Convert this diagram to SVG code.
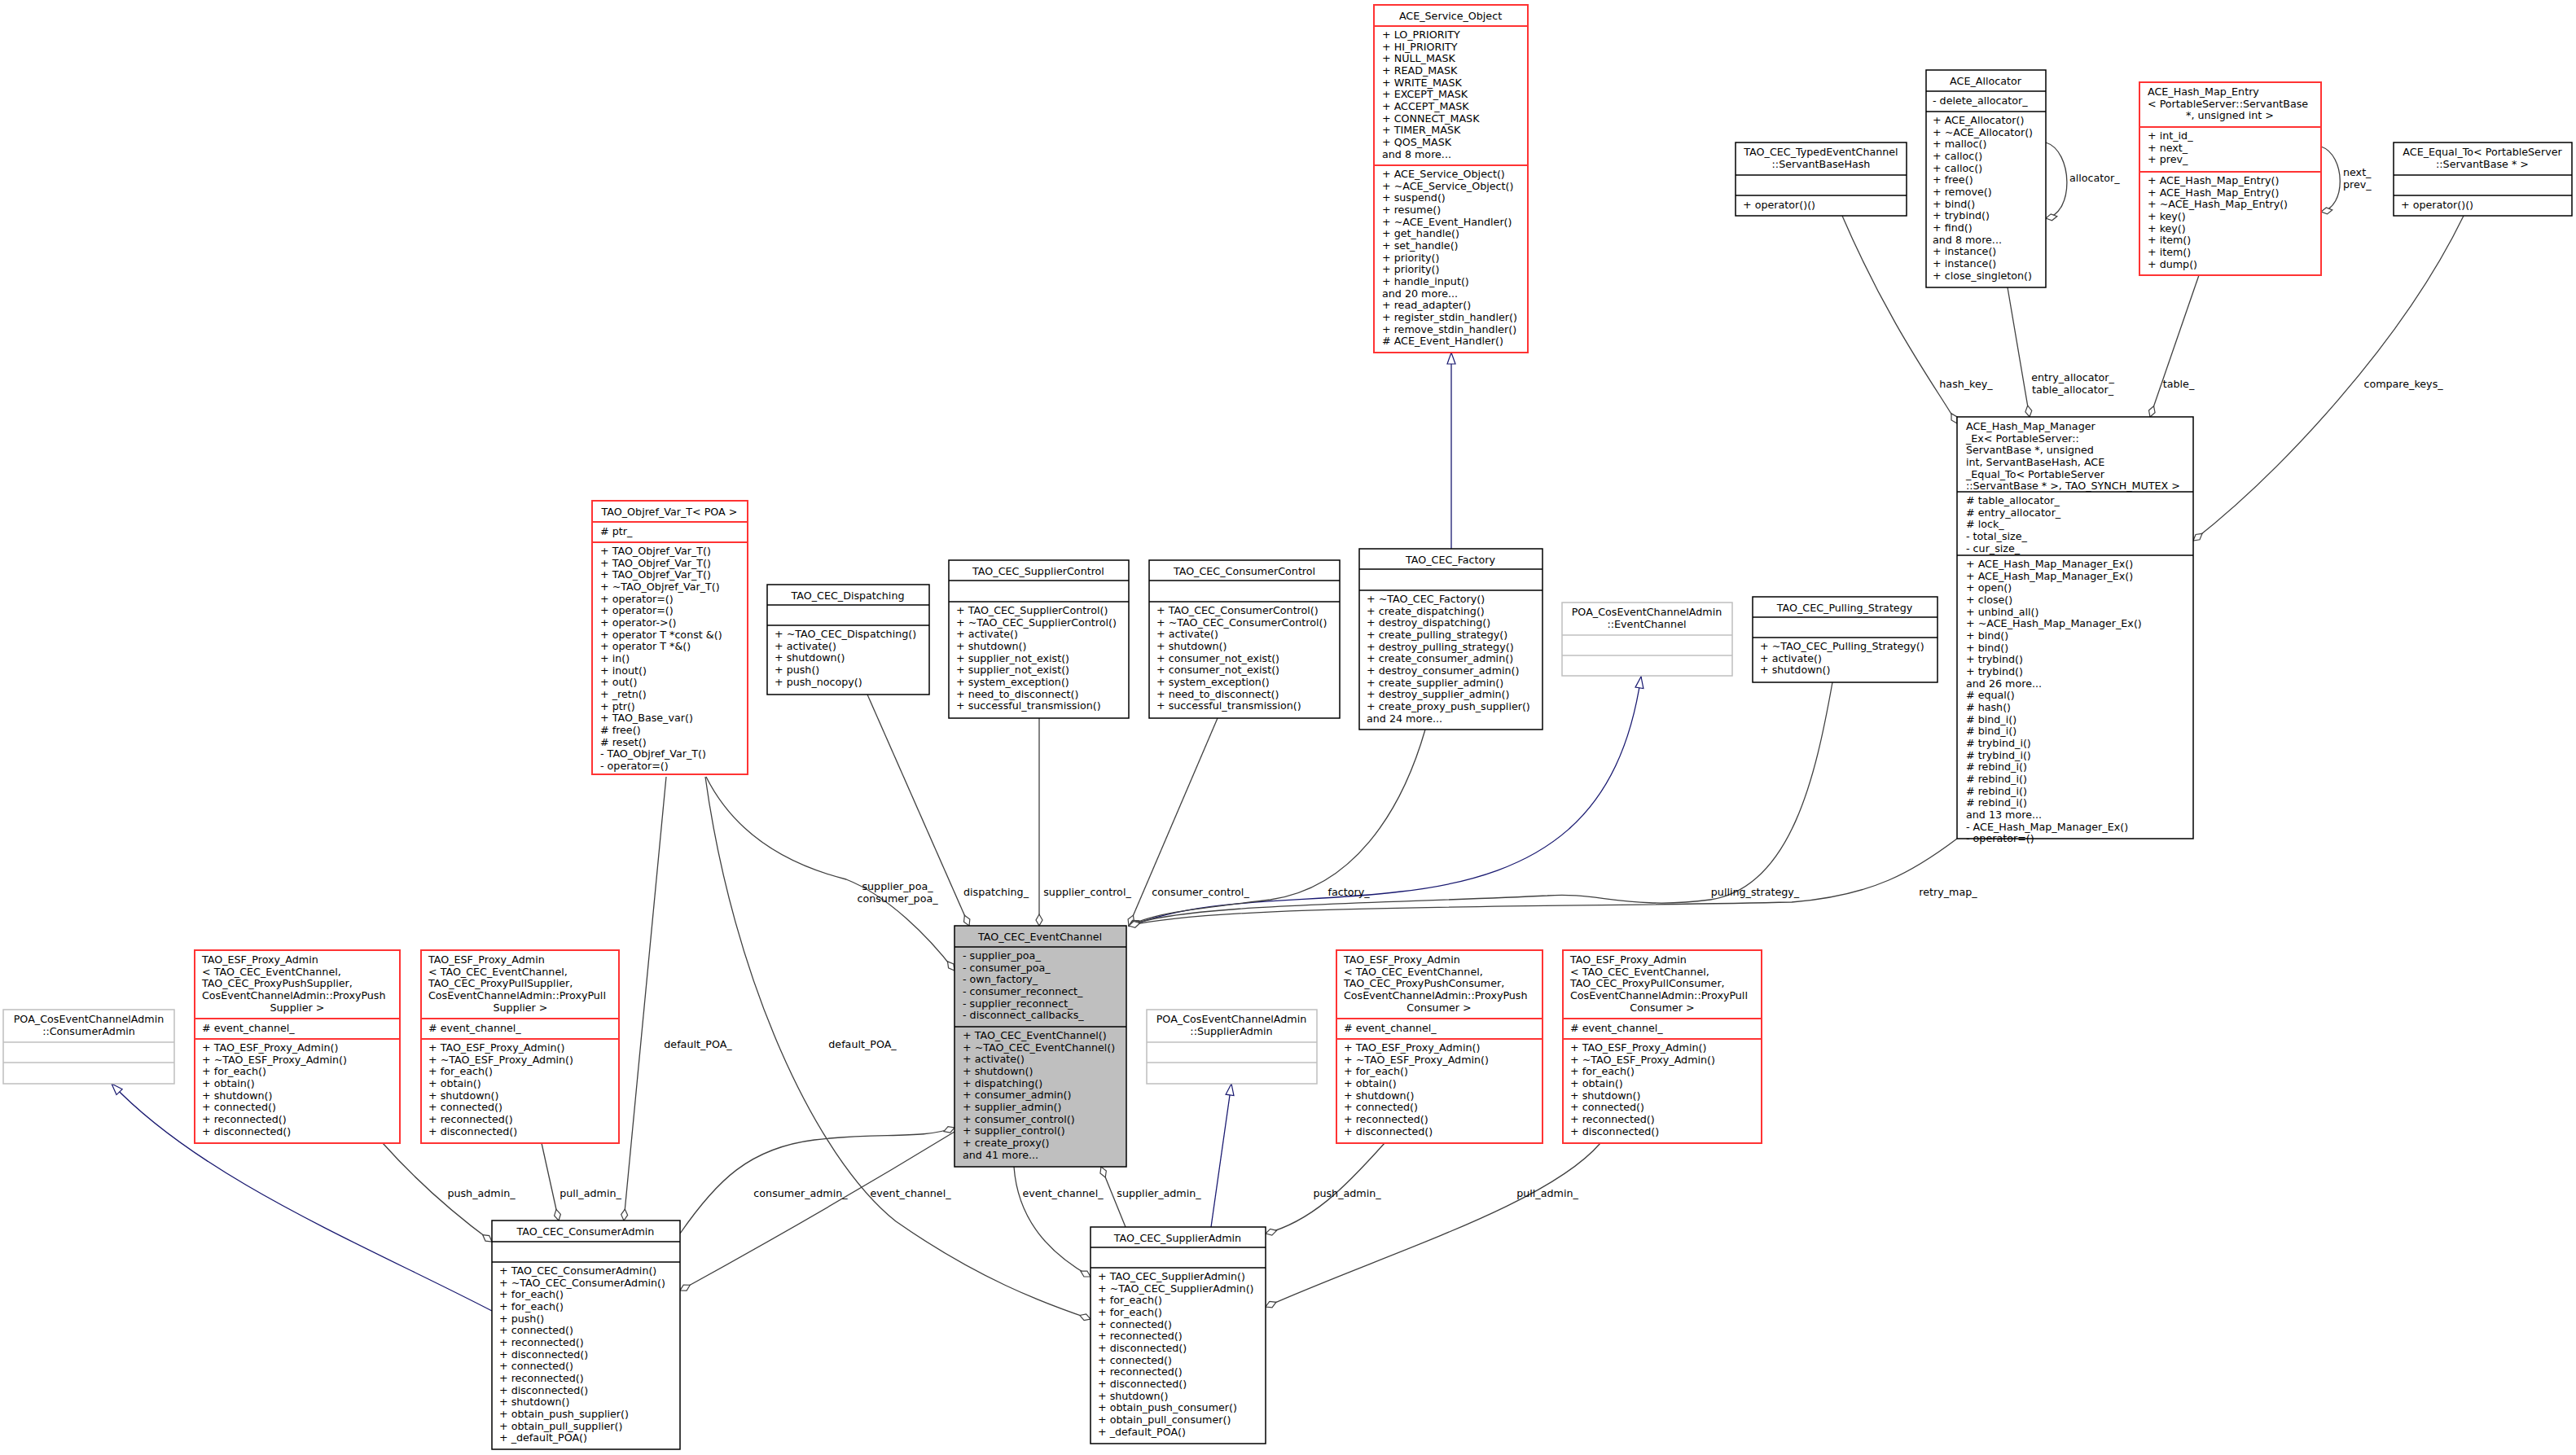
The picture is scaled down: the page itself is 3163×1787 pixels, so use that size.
<svg xmlns="http://www.w3.org/2000/svg" width="3163" height="1787" viewBox="0 0 3163 1787">
<style>
text{font-family:"DejaVu Sans","Liberation Sans",sans-serif;font-size:12.7px;fill:#000}
.c{text-anchor:middle}
.b{fill:#fff;stroke:#000;stroke-width:1.5}
.r{fill:#fff;stroke:#ff3333;stroke-width:2}
.g{fill:#fff;stroke:#bfbfbf;stroke-width:1.5}
.gf{fill:#bfbfbf;stroke:#000;stroke-width:1.5}
.l{stroke:#000;stroke-width:1.5}
.lr{stroke:#ff3333;stroke-width:2}
.lg{stroke:#bfbfbf;stroke-width:1.5}
.e{fill:none;stroke:#404040;stroke-width:1.3;marker-end:url(#dia)}
.i{fill:none;stroke:#191970;stroke-width:1.3;marker-end:url(#tri)}
</style>
<defs>
<marker id="dia" markerUnits="userSpaceOnUse" markerWidth="16" markerHeight="10" viewBox="0 0 16 10" refX="15" refY="5" orient="auto"><path d="M1,5 L8,1 L15,5 L8,9 Z" fill="#fff" stroke="#404040" stroke-width="1.2"/></marker>
<marker id="tri" markerUnits="userSpaceOnUse" markerWidth="16" markerHeight="12" viewBox="0 0 16 12" refX="15" refY="6" orient="auto"><path d="M1,1 L15,6 L1,11 Z" fill="#fff" stroke="#191970" stroke-width="1.2"/></marker>
</defs>
<rect width="3163" height="1787" fill="#fff"/>
<g id="connectors">
<path class="i" d="M1782,674 L1782,433"/>
<path class="i" d="M1386,1138 C1480,1100 1600,1110 1720,1095 C1900,1075 1990,1000 2015,831"/>
<path class="i" d="M604,1610 C450,1530 250,1450 137,1331"/>
<path class="i" d="M1487,1507 L1512,1331"/>
<path class="e" d="M867,954 C900,1020 960,1060 1039,1080 C1090,1100 1140,1150 1172,1192"/>
<path class="e" d="M1065,853 L1190,1137"/>
<path class="e" d="M1276,882 L1276,1137"/>
<path class="e" d="M1495,882 L1386,1137"/>
<path class="e" d="M1750,896 C1720,1000 1660,1090 1560,1105 C1480,1115 1420,1120 1386,1137"/>
<path class="e" d="M2250,838 C2230,950 2200,1090 2100,1105 C2000,1118 1960,1095 1900,1100 C1700,1110 1450,1110 1386,1137"/>
<path class="e" d="M2403,1030 C2350,1070 2300,1100 2200,1108 C1900,1115 1500,1110 1386,1137"/>
<path class="e" d="M818,954 L766,1499"/>
<path class="e" d="M866,954 C900,1200 1000,1420 1100,1500 C1200,1570 1280,1600 1339,1620"/>
<path class="e" d="M470,1404 C520,1460 570,1500 604,1525"/>
<path class="e" d="M665,1404 L686,1499"/>
<path class="e" d="M835,1515 C880,1450 920,1410 1000,1400 C1080,1390 1130,1400 1172,1385"/>
<path class="e" d="M1172,1390 C1090,1440 990,1500 835,1585"/>
<path class="e" d="M1245,1433 C1250,1500 1290,1540 1339,1568"/>
<path class="e" d="M1382,1507 L1352,1433"/>
<path class="e" d="M1700,1404 C1650,1460 1610,1500 1554,1515"/>
<path class="e" d="M1965,1404 C1900,1480 1700,1540 1554,1605"/>
<path class="e" d="M2262,265 C2320,400 2380,480 2403,520"/>
<path class="e" d="M2465,353 L2492,512"/>
<path class="e" d="M2700,338 L2640,512"/>
<path class="e" d="M3025,265 C2950,420 2800,580 2693,664"/>
<path class="e" d="M2512,175 C2545,185 2548,262 2512,268"/>
<path class="e" d="M2850,180 C2880,190 2882,255 2850,260"/>
<g class="c">
<text x="1102" y="1093">supplier_poa_</text><text x="1102" y="1108">consumer_poa_</text>
<text x="1223" y="1100">dispatching_</text>
<text x="1335" y="1100">supplier_control_</text>
<text x="1474" y="1100">consumer_control_</text>
<text x="1656" y="1100">factory_</text>
<text x="2155" y="1100">pulling_strategy_</text>
<text x="2392" y="1100">retry_map_</text>
<text x="2414" y="476">hash_key_</text>
<text x="2545" y="468">entry_allocator_</text><text x="2545" y="483">table_allocator_</text>
<text x="2675" y="476">table_</text>
<text x="2951" y="476">compare_keys_</text>
<text x="857" y="1287">default_POA_</text>
<text x="1059" y="1287">default_POA_</text>
<text x="591" y="1470">push_admin_</text>
<text x="725" y="1470">pull_admin_</text>
<text x="983" y="1470">consumer_admin_</text>
<text x="1118" y="1470">event_channel_</text>
<text x="1305" y="1470">event_channel_</text>
<text x="1423" y="1470">supplier_admin_</text>
<text x="1654" y="1470">push_admin_</text>
<text x="1900" y="1470">pull_admin_</text>
</g>
<text x="2541" y="223">allocator_</text>
<text x="2877" y="216">next_</text><text x="2877" y="231">prev_</text>
</g>

<g id="ACE_Service_Object">
<rect class="r" x="1687" y="6" width="189" height="427"/>
<line class="lr" x1="1687" y1="32" x2="1876" y2="32"/><line class="lr" x1="1687" y1="203" x2="1876" y2="203"/>
<text class="c" x="1781" y="24">ACE_Service_Object</text>
<text x="1697" y="47">+ LO_PRIORITY</text><text x="1697" y="62">+ HI_PRIORITY</text><text x="1697" y="76">+ NULL_MASK</text><text x="1697" y="91">+ READ_MASK</text><text x="1697" y="106">+ WRITE_MASK</text><text x="1697" y="120">+ EXCEPT_MASK</text><text x="1697" y="135">+ ACCEPT_MASK</text><text x="1697" y="150">+ CONNECT_MASK</text><text x="1697" y="164">+ TIMER_MASK</text><text x="1697" y="179">+ QOS_MASK</text><text x="1697" y="194">and 8 more...</text>
<text x="1697" y="218">+ ACE_Service_Object()</text><text x="1697" y="233">+ ~ACE_Service_Object()</text><text x="1697" y="247">+ suspend()</text><text x="1697" y="262">+ resume()</text><text x="1697" y="277">+ ~ACE_Event_Handler()</text><text x="1697" y="291">+ get_handle()</text><text x="1697" y="306">+ set_handle()</text><text x="1697" y="321">+ priority()</text><text x="1697" y="335">+ priority()</text><text x="1697" y="350">+ handle_input()</text><text x="1697" y="365">and 20 more...</text><text x="1697" y="379">+ read_adapter()</text><text x="1697" y="394">+ register_stdin_handler()</text><text x="1697" y="409">+ remove_stdin_handler()</text><text x="1697" y="423"># ACE_Event_Handler()</text>
</g>

<g id="ServantBaseHash">
<rect class="b" x="2131" y="175" width="210" height="90"/>
<line class="l" x1="2131" y1="215" x2="2341" y2="215"/><line class="l" x1="2131" y1="240" x2="2341" y2="240"/>
<text class="c" x="2236" y="191">TAO_CEC_TypedEventChannel</text><text class="c" x="2236" y="206">::ServantBaseHash</text>
<text x="2140" y="256">+ operator()()</text>
</g>

<g id="ACE_Allocator">
<rect class="b" x="2365" y="86" width="147" height="267"/>
<line class="l" x1="2365" y1="112" x2="2512" y2="112"/><line class="l" x1="2365" y1="137" x2="2512" y2="137"/>
<text class="c" x="2438" y="104">ACE_Allocator</text>
<text x="2373" y="128">- delete_allocator_</text>
<text x="2373" y="152">+ ACE_Allocator()</text><text x="2373" y="167">+ ~ACE_Allocator()</text><text x="2373" y="181">+ malloc()</text><text x="2373" y="196">+ calloc()</text><text x="2373" y="211">+ calloc()</text><text x="2373" y="225">+ free()</text><text x="2373" y="240">+ remove()</text><text x="2373" y="255">+ bind()</text><text x="2373" y="269">+ trybind()</text><text x="2373" y="284">+ find()</text><text x="2373" y="299">and 8 more...</text><text x="2373" y="313">+ instance()</text><text x="2373" y="328">+ instance()</text><text x="2373" y="343">+ close_singleton()</text>
</g>

<g id="ACE_Hash_Map_Entry">
<rect class="r" x="2627" y="101" width="223" height="237"/>
<line class="lr" x1="2627" y1="156" x2="2850" y2="156"/><line class="lr" x1="2627" y1="211" x2="2850" y2="211"/>
<text x="2637" y="117">ACE_Hash_Map_Entry</text><text x="2637" y="132">&lt; PortableServer::ServantBase</text><text class="c" x="2738" y="146">*, unsigned int &gt;</text>
<text x="2637" y="171">+ int_id_</text><text x="2637" y="186">+ next_</text><text x="2637" y="200">+ prev_</text>
<text x="2637" y="226">+ ACE_Hash_Map_Entry()</text><text x="2637" y="241">+ ACE_Hash_Map_Entry()</text><text x="2637" y="255">+ ~ACE_Hash_Map_Entry()</text><text x="2637" y="270">+ key()</text><text x="2637" y="285">+ key()</text><text x="2637" y="299">+ item()</text><text x="2637" y="314">+ item()</text><text x="2637" y="329">+ dump()</text>
</g>

<g id="ACE_Equal_To">
<rect class="b" x="2939" y="175" width="219" height="90"/>
<line class="l" x1="2939" y1="215" x2="3158" y2="215"/><line class="l" x1="2939" y1="240" x2="3158" y2="240"/>
<text class="c" x="3048" y="191">ACE_Equal_To&lt; PortableServer</text><text class="c" x="3048" y="206">::ServantBase * &gt;</text>
<text x="2948" y="256">+ operator()()</text>
</g>

<g id="ACE_Hash_Map_Manager_Ex">
<rect class="b" x="2403" y="512" width="290" height="518"/>
<line class="l" x1="2403" y1="604" x2="2693" y2="604"/><line class="l" x1="2403" y1="682" x2="2693" y2="682"/>
<text x="2414" y="528">ACE_Hash_Map_Manager</text><text x="2414" y="543">_Ex&lt; PortableServer::</text><text x="2414" y="557">ServantBase *, unsigned</text><text x="2414" y="572"> int, ServantBaseHash, ACE</text><text x="2414" y="587">_Equal_To&lt; PortableServer</text><text x="2414" y="601">::ServantBase * &gt;, TAO_SYNCH_MUTEX &gt;</text>
<text x="2414" y="619"># table_allocator_</text><text x="2414" y="634"># entry_allocator_</text><text x="2414" y="648"># lock_</text><text x="2414" y="663">- total_size_</text><text x="2414" y="678">- cur_size_</text>
<text x="2414" y="697">+ ACE_Hash_Map_Manager_Ex()</text><text x="2414" y="712">+ ACE_Hash_Map_Manager_Ex()</text><text x="2414" y="726">+ open()</text><text x="2414" y="741">+ close()</text><text x="2414" y="756">+ unbind_all()</text><text x="2414" y="770">+ ~ACE_Hash_Map_Manager_Ex()</text><text x="2414" y="785">+ bind()</text><text x="2414" y="800">+ bind()</text><text x="2414" y="814">+ trybind()</text><text x="2414" y="829">+ trybind()</text><text x="2414" y="844">and 26 more...</text><text x="2414" y="858"># equal()</text><text x="2414" y="873"># hash()</text><text x="2414" y="888"># bind_i()</text><text x="2414" y="902"># bind_i()</text><text x="2414" y="917"># trybind_i()</text><text x="2414" y="932"># trybind_i()</text><text x="2414" y="946"># rebind_i()</text><text x="2414" y="961"># rebind_i()</text><text x="2414" y="976"># rebind_i()</text><text x="2414" y="990"># rebind_i()</text><text x="2414" y="1005">and 13 more...</text><text x="2414" y="1020">- ACE_Hash_Map_Manager_Ex()</text><text x="2414" y="1034">- operator=()</text>
</g>

<g id="TAO_Objref_Var_T">
<rect class="r" x="727" y="615" width="191" height="336"/>
<line class="lr" x1="727" y1="641" x2="918" y2="641"/><line class="lr" x1="727" y1="666" x2="918" y2="666"/>
<text class="c" x="822" y="633">TAO_Objref_Var_T&lt; POA &gt;</text>
<text x="737" y="657"># ptr_</text>
<text x="737" y="681">+ TAO_Objref_Var_T()</text><text x="737" y="696">+ TAO_Objref_Var_T()</text><text x="737" y="710">+ TAO_Objref_Var_T()</text><text x="737" y="725">+ ~TAO_Objref_Var_T()</text><text x="737" y="740">+ operator=()</text><text x="737" y="754">+ operator=()</text><text x="737" y="769">+ operator-&gt;()</text><text x="737" y="784">+ operator T *const &amp;()</text><text x="737" y="798">+ operator T *&amp;()</text><text x="737" y="813">+ in()</text><text x="737" y="828">+ inout()</text><text x="737" y="842">+ out()</text><text x="737" y="857">+ _retn()</text><text x="737" y="872">+ ptr()</text><text x="737" y="886">+ TAO_Base_var()</text><text x="737" y="901"># free()</text><text x="737" y="916"># reset()</text><text x="737" y="930">- TAO_Objref_Var_T()</text><text x="737" y="945">- operator=()</text>
</g>

<g id="TAO_CEC_Dispatching">
<rect class="b" x="942" y="718" width="199" height="135"/>
<line class="l" x1="942" y1="743" x2="1141" y2="743"/><line class="l" x1="942" y1="768" x2="1141" y2="768"/>
<text class="c" x="1041" y="736">TAO_CEC_Dispatching</text>
<text x="951" y="783">+ ~TAO_CEC_Dispatching()</text><text x="951" y="798">+ activate()</text><text x="951" y="812">+ shutdown()</text><text x="951" y="827">+ push()</text><text x="951" y="842">+ push_nocopy()</text>
</g>

<g id="TAO_CEC_SupplierControl">
<rect class="b" x="1165" y="688" width="221" height="194"/>
<line class="l" x1="1165" y1="713" x2="1386" y2="713"/><line class="l" x1="1165" y1="739" x2="1386" y2="739"/>
<text class="c" x="1275" y="706">TAO_CEC_SupplierControl</text>
<text x="1174" y="754">+ TAO_CEC_SupplierControl()</text><text x="1174" y="769">+ ~TAO_CEC_SupplierControl()</text><text x="1174" y="783">+ activate()</text><text x="1174" y="798">+ shutdown()</text><text x="1174" y="813">+ supplier_not_exist()</text><text x="1174" y="827">+ supplier_not_exist()</text><text x="1174" y="842">+ system_exception()</text><text x="1174" y="857">+ need_to_disconnect()</text><text x="1174" y="871">+ successful_transmission()</text>
</g>

<g id="TAO_CEC_ConsumerControl">
<rect class="b" x="1411" y="688" width="234" height="194"/>
<line class="l" x1="1411" y1="713" x2="1645" y2="713"/><line class="l" x1="1411" y1="739" x2="1645" y2="739"/>
<text class="c" x="1528" y="706">TAO_CEC_ConsumerControl</text>
<text x="1420" y="754">+ TAO_CEC_ConsumerControl()</text><text x="1420" y="769">+ ~TAO_CEC_ConsumerControl()</text><text x="1420" y="783">+ activate()</text><text x="1420" y="798">+ shutdown()</text><text x="1420" y="813">+ consumer_not_exist()</text><text x="1420" y="827">+ consumer_not_exist()</text><text x="1420" y="842">+ system_exception()</text><text x="1420" y="857">+ need_to_disconnect()</text><text x="1420" y="871">+ successful_transmission()</text>
</g>

<g id="TAO_CEC_Factory">
<rect class="b" x="1669" y="674" width="225" height="222"/>
<line class="l" x1="1669" y1="699" x2="1894" y2="699"/><line class="l" x1="1669" y1="725" x2="1894" y2="725"/>
<text class="c" x="1781" y="692">TAO_CEC_Factory</text>
<text x="1678" y="740">+ ~TAO_CEC_Factory()</text><text x="1678" y="755">+ create_dispatching()</text><text x="1678" y="769">+ destroy_dispatching()</text><text x="1678" y="784">+ create_pulling_strategy()</text><text x="1678" y="799">+ destroy_pulling_strategy()</text><text x="1678" y="813">+ create_consumer_admin()</text><text x="1678" y="828">+ destroy_consumer_admin()</text><text x="1678" y="843">+ create_supplier_admin()</text><text x="1678" y="857">+ destroy_supplier_admin()</text><text x="1678" y="872">+ create_proxy_push_supplier()</text><text x="1678" y="887">and 24 more...</text>
</g>

<g id="POA_EventChannel">
<rect class="g" x="1918" y="740" width="209" height="90"/>
<line class="lg" x1="1918" y1="780" x2="2127" y2="780"/><line class="lg" x1="1918" y1="805" x2="2127" y2="805"/>
<text class="c" x="2022" y="756">POA_CosEventChannelAdmin</text><text class="c" x="2022" y="771">::EventChannel</text>
</g>

<g id="TAO_CEC_Pulling_Strategy">
<rect class="b" x="2152" y="733" width="227" height="105"/>
<line class="l" x1="2152" y1="758" x2="2379" y2="758"/><line class="l" x1="2152" y1="783" x2="2379" y2="783"/>
<text class="c" x="2265" y="751">TAO_CEC_Pulling_Strategy</text>
<text x="2161" y="798">+ ~TAO_CEC_Pulling_Strategy()</text><text x="2161" y="813">+ activate()</text><text x="2161" y="827">+ shutdown()</text>
</g>

<g id="TAO_CEC_EventChannel">
<rect class="gf" x="1172" y="1137" width="211" height="296"/>
<line class="l" x1="1172" y1="1163" x2="1383" y2="1163"/><line class="l" x1="1172" y1="1261" x2="1383" y2="1261"/>
<text class="c" x="1277" y="1155">TAO_CEC_EventChannel</text>
<text x="1182" y="1178">- supplier_poa_</text><text x="1182" y="1193">- consumer_poa_</text><text x="1182" y="1207">- own_factory_</text><text x="1182" y="1222">- consumer_reconnect_</text><text x="1182" y="1237">- supplier_reconnect_</text><text x="1182" y="1251">- disconnect_callbacks_</text>
<text x="1182" y="1276">+ TAO_CEC_EventChannel()</text><text x="1182" y="1291">+ ~TAO_CEC_EventChannel()</text><text x="1182" y="1305">+ activate()</text><text x="1182" y="1320">+ shutdown()</text><text x="1182" y="1335">+ dispatching()</text><text x="1182" y="1349">+ consumer_admin()</text><text x="1182" y="1364">+ supplier_admin()</text><text x="1182" y="1379">+ consumer_control()</text><text x="1182" y="1393">+ supplier_control()</text><text x="1182" y="1408">+ create_proxy()</text><text x="1182" y="1423">and 41 more...</text>
</g>

<g id="POA_ConsumerAdmin">
<rect class="g" x="4" y="1240" width="210" height="91"/>
<line class="lg" x1="4" y1="1280" x2="214" y2="1280"/><line class="lg" x1="4" y1="1305" x2="214" y2="1305"/>
<text class="c" x="109" y="1256">POA_CosEventChannelAdmin</text><text class="c" x="109" y="1271">::ConsumerAdmin</text>
</g>

<g id="ESF_ProxyPushSupplier">
<rect class="r" x="239" y="1167" width="252" height="237"/>
<line class="lr" x1="239" y1="1251" x2="491" y2="1251"/><line class="lr" x1="239" y1="1276" x2="491" y2="1276"/>
<text x="248" y="1183">TAO_ESF_Proxy_Admin</text><text x="248" y="1198">&lt; TAO_CEC_EventChannel,</text><text x="248" y="1212"> TAO_CEC_ProxyPushSupplier,</text><text x="248" y="1227"> CosEventChannelAdmin::ProxyPush</text><text class="c" x="365" y="1242">Supplier &gt;</text>
<text x="248" y="1267"># event_channel_</text>
<text x="248" y="1291">+ TAO_ESF_Proxy_Admin()</text><text x="248" y="1306">+ ~TAO_ESF_Proxy_Admin()</text><text x="248" y="1320">+ for_each()</text><text x="248" y="1335">+ obtain()</text><text x="248" y="1350">+ shutdown()</text><text x="248" y="1364">+ connected()</text><text x="248" y="1379">+ reconnected()</text><text x="248" y="1394">+ disconnected()</text>
</g>

<g id="ESF_ProxyPullSupplier">
<rect class="r" x="517" y="1167" width="243" height="237"/>
<line class="lr" x1="517" y1="1251" x2="760" y2="1251"/><line class="lr" x1="517" y1="1276" x2="760" y2="1276"/>
<text x="526" y="1183">TAO_ESF_Proxy_Admin</text><text x="526" y="1198">&lt; TAO_CEC_EventChannel,</text><text x="526" y="1212"> TAO_CEC_ProxyPullSupplier,</text><text x="526" y="1227"> CosEventChannelAdmin::ProxyPull</text><text class="c" x="639" y="1242">Supplier &gt;</text>
<text x="526" y="1267"># event_channel_</text>
<text x="526" y="1291">+ TAO_ESF_Proxy_Admin()</text><text x="526" y="1306">+ ~TAO_ESF_Proxy_Admin()</text><text x="526" y="1320">+ for_each()</text><text x="526" y="1335">+ obtain()</text><text x="526" y="1350">+ shutdown()</text><text x="526" y="1364">+ connected()</text><text x="526" y="1379">+ reconnected()</text><text x="526" y="1394">+ disconnected()</text>
</g>

<g id="TAO_CEC_ConsumerAdmin">
<rect class="b" x="604" y="1499" width="231" height="281"/>
<line class="l" x1="604" y1="1525" x2="835" y2="1525"/><line class="l" x1="604" y1="1550" x2="835" y2="1550"/>
<text class="c" x="719" y="1517">TAO_CEC_ConsumerAdmin</text>
<text x="613" y="1565">+ TAO_CEC_ConsumerAdmin()</text><text x="613" y="1580">+ ~TAO_CEC_ConsumerAdmin()</text><text x="613" y="1594">+ for_each()</text><text x="613" y="1609">+ for_each()</text><text x="613" y="1624">+ push()</text><text x="613" y="1638">+ connected()</text><text x="613" y="1653">+ reconnected()</text><text x="613" y="1668">+ disconnected()</text><text x="613" y="1682">+ connected()</text><text x="613" y="1697">+ reconnected()</text><text x="613" y="1712">+ disconnected()</text><text x="613" y="1726">+ shutdown()</text><text x="613" y="1741">+ obtain_push_supplier()</text><text x="613" y="1756">+ obtain_pull_supplier()</text><text x="613" y="1770">+ _default_POA()</text>
</g>

<g id="POA_SupplierAdmin">
<rect class="g" x="1408" y="1240" width="209" height="91"/>
<line class="lg" x1="1408" y1="1280" x2="1617" y2="1280"/><line class="lg" x1="1408" y1="1305" x2="1617" y2="1305"/>
<text class="c" x="1512" y="1256">POA_CosEventChannelAdmin</text><text class="c" x="1512" y="1271">::SupplierAdmin</text>
</g>

<g id="ESF_ProxyPushConsumer">
<rect class="r" x="1641" y="1167" width="253" height="237"/>
<line class="lr" x1="1641" y1="1251" x2="1894" y2="1251"/><line class="lr" x1="1641" y1="1276" x2="1894" y2="1276"/>
<text x="1650" y="1183">TAO_ESF_Proxy_Admin</text><text x="1650" y="1198">&lt; TAO_CEC_EventChannel,</text><text x="1650" y="1212"> TAO_CEC_ProxyPushConsumer,</text><text x="1650" y="1227"> CosEventChannelAdmin::ProxyPush</text><text class="c" x="1767" y="1242">Consumer &gt;</text>
<text x="1650" y="1267"># event_channel_</text>
<text x="1650" y="1291">+ TAO_ESF_Proxy_Admin()</text><text x="1650" y="1306">+ ~TAO_ESF_Proxy_Admin()</text><text x="1650" y="1320">+ for_each()</text><text x="1650" y="1335">+ obtain()</text><text x="1650" y="1350">+ shutdown()</text><text x="1650" y="1364">+ connected()</text><text x="1650" y="1379">+ reconnected()</text><text x="1650" y="1394">+ disconnected()</text>
</g>

<g id="ESF_ProxyPullConsumer">
<rect class="r" x="1919" y="1167" width="244" height="237"/>
<line class="lr" x1="1919" y1="1251" x2="2163" y2="1251"/><line class="lr" x1="1919" y1="1276" x2="2163" y2="1276"/>
<text x="1928" y="1183">TAO_ESF_Proxy_Admin</text><text x="1928" y="1198">&lt; TAO_CEC_EventChannel,</text><text x="1928" y="1212"> TAO_CEC_ProxyPullConsumer,</text><text x="1928" y="1227"> CosEventChannelAdmin::ProxyPull</text><text class="c" x="2041" y="1242">Consumer &gt;</text>
<text x="1928" y="1267"># event_channel_</text>
<text x="1928" y="1291">+ TAO_ESF_Proxy_Admin()</text><text x="1928" y="1306">+ ~TAO_ESF_Proxy_Admin()</text><text x="1928" y="1320">+ for_each()</text><text x="1928" y="1335">+ obtain()</text><text x="1928" y="1350">+ shutdown()</text><text x="1928" y="1364">+ connected()</text><text x="1928" y="1379">+ reconnected()</text><text x="1928" y="1394">+ disconnected()</text>
</g>

<g id="TAO_CEC_SupplierAdmin">
<rect class="b" x="1339" y="1507" width="215" height="266"/>
<line class="l" x1="1339" y1="1532" x2="1554" y2="1532"/><line class="l" x1="1339" y1="1557" x2="1554" y2="1557"/>
<text class="c" x="1446" y="1525">TAO_CEC_SupplierAdmin</text>
<text x="1348" y="1572">+ TAO_CEC_SupplierAdmin()</text><text x="1348" y="1587">+ ~TAO_CEC_SupplierAdmin()</text><text x="1348" y="1601">+ for_each()</text><text x="1348" y="1616">+ for_each()</text><text x="1348" y="1631">+ connected()</text><text x="1348" y="1645">+ reconnected()</text><text x="1348" y="1660">+ disconnected()</text><text x="1348" y="1675">+ connected()</text><text x="1348" y="1689">+ reconnected()</text><text x="1348" y="1704">+ disconnected()</text><text x="1348" y="1719">+ shutdown()</text><text x="1348" y="1733">+ obtain_push_consumer()</text><text x="1348" y="1748">+ obtain_pull_consumer()</text><text x="1348" y="1763">+ _default_POA()</text>
</g>
</svg>
